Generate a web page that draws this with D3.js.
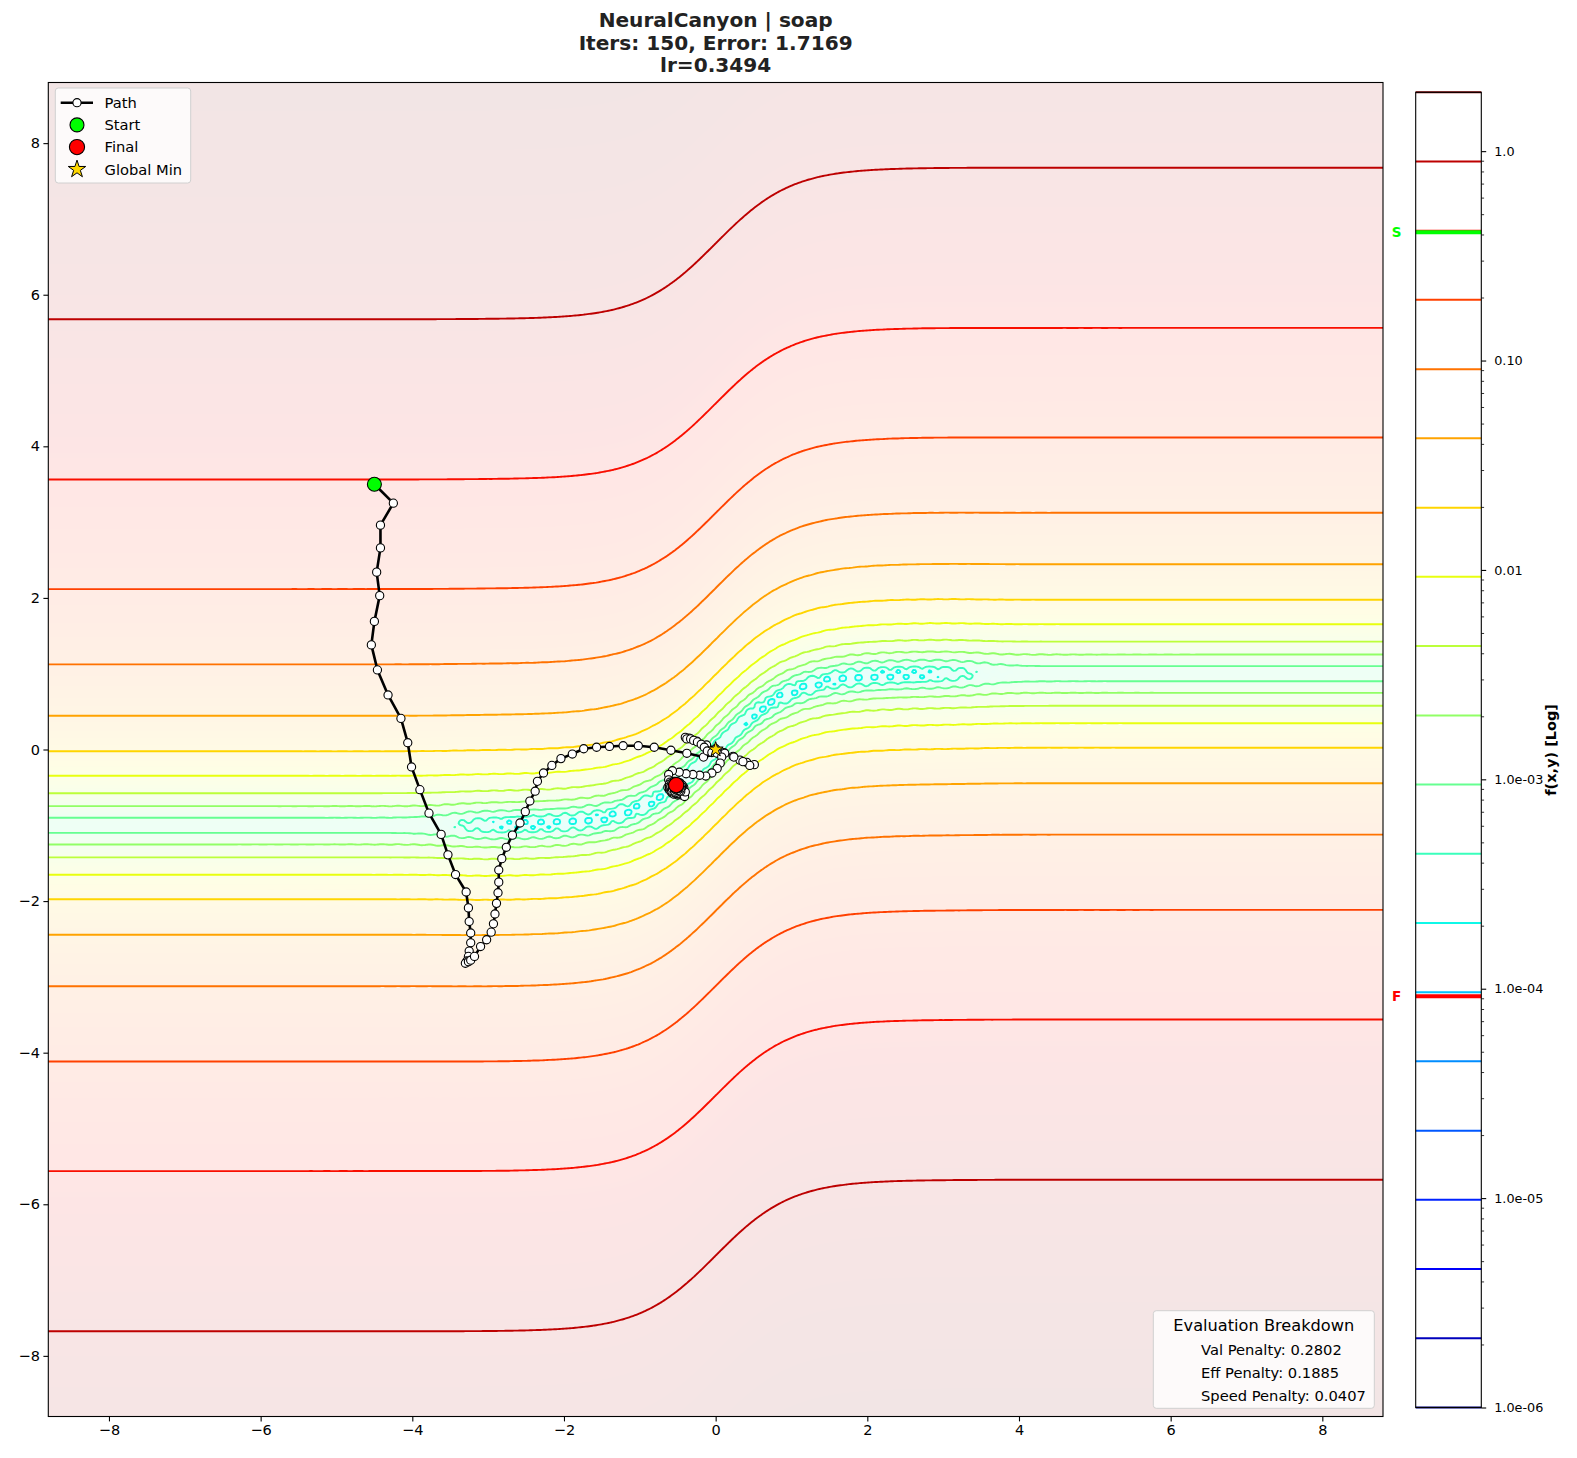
<!DOCTYPE html>
<html>
<head>
<meta charset="utf-8">
<script src="https://cdn.jsdelivr.net/npm/d3@7"></script>
<style>
  body { margin: 0; background: #fff; }
  svg { display: block; }
  text { font-family: "DejaVu Sans", sans-serif; fill: #000; }
</style>
</head>
<body>
<svg id="chart" width="1577" height="1458"></svg>
<script>
// ---- data ----
const titleLines = ["NeuralCanyon | soap", "Iters: 150, Error: 1.7169", "lr=0.3494"];
const axisTicks = [-8, -6, -4, -2, 0, 2, 4, 6, 8];

// contour levels, as drawn on the colour bar (log spaced, 1e-6 .. 1.91)
const levels = [1.0e-6, 2.14e-6, 4.59e-6, 9.81e-6, 2.10e-5, 4.50e-5, 9.63e-5, 2.06e-4, 4.41e-4, 9.45e-4,
                2.02e-3, 4.33e-3, 9.27e-3, 0.0198, 0.0425, 0.0909, 0.195, 0.417, 0.892, 1.91];
const cbTickValues = [1e-6, 1e-5, 1e-4, 1e-3, 0.01, 0.1, 1];
const cbTickLabels = ["1.0e-06", "1.0e-05", "1.0e-04", "1.0e-03", "0.01", "0.10", "1.0"];

// optimiser path
const pathX = [-4.50, -4.25, -4.42, -4.42, -4.47, -4.43, -4.50, -4.54, -4.46, -4.32, -4.15, -4.06, -4.01, -3.90, -3.78, -3.62, -3.53, -3.43, -3.29, -3.26,
               -3.25, -3.23, -3.23, -3.25, -3.26, -3.28, -3.30, -3.26, -3.23, -3.18, -3.10, -3.02, -2.96, -2.93, -2.91, -2.89, -2.87, -2.86, -2.86, -2.82,
               -2.76, -2.68, -2.58, -2.51, -2.45, -2.38, -2.35, -2.27, -2.16, -2.04, -1.89, -1.74, -1.57, -1.40, -1.22, -1.02, -0.81, -0.59, -0.38, -0.16,
               0.11, 0.23, 0.32, 0.41, 0.51, 0.45, 0.36, 0.24, 0.12, 0.00, -0.12, -0.25, -0.35, -0.40, -0.38, -0.33, -0.29, -0.24, -0.19, -0.15,
               -0.11, -0.05, 0.02, 0.08, 0.06, 0.02, -0.05, -0.13, -0.21, -0.30, -0.39, -0.48, -0.57, -0.62, -0.62, -0.60, -0.56, -0.49, -0.45, -0.43,
               -0.46, -0.53, -0.60, -0.63, -0.58, -0.50, -0.44, -0.42, -0.47, -0.55, -0.61, -0.61, -0.55, -0.48, -0.43, -0.44, -0.50, -0.57, -0.61, -0.59,
               -0.53, -0.46, -0.41, -0.40, -0.44, -0.52, -0.58, -0.60, -0.57, -0.51, -0.46, -0.45, -0.49, -0.55, -0.59, -0.58, -0.53, -0.48, -0.46, -0.48,
               -0.53, -0.57, -0.57, -0.54, -0.50, -0.48, -0.50, -0.54, -0.55, -0.53, -0.52];
const pathY = [3.50, 3.25, 2.96, 2.66, 2.34, 2.03, 1.69, 1.38, 1.05, 0.72, 0.41, 0.09, -0.23, -0.53, -0.84, -1.12, -1.39, -1.65, -1.88, -2.09,
               -2.27, -2.42, -2.55, -2.66, -2.73, -2.79, -2.82, -2.80, -2.78, -2.73, -2.60, -2.51, -2.41, -2.30, -2.17, -2.03, -1.89, -1.75, -1.59, -1.44,
               -1.29, -1.13, -0.97, -0.82, -0.68, -0.55, -0.42, -0.31, -0.21, -0.12, -0.06, 0.01, 0.03, 0.04, 0.05, 0.05, 0.03, -0.01, -0.05, -0.10,
               -0.04, -0.09, -0.14, -0.17, -0.20, -0.21, -0.16, -0.10, -0.05, 0.01, 0.06, 0.11, 0.15, 0.16, 0.14, 0.14, 0.12, 0.10, 0.07, 0.03,
               -0.02, -0.04, -0.05, -0.10, -0.18, -0.25, -0.31, -0.35, -0.34, -0.33, -0.32, -0.30, -0.28, -0.33, -0.40, -0.47, -0.52, -0.56, -0.60, -0.53,
               -0.46, -0.42, -0.43, -0.50, -0.57, -0.60, -0.57, -0.50, -0.44, -0.42, -0.46, -0.53, -0.59, -0.59, -0.54, -0.47, -0.43, -0.43, -0.49, -0.55,
               -0.58, -0.58, -0.62, -0.56, -0.49, -0.44, -0.45, -0.51, -0.56, -0.58, -0.55, -0.49, -0.45, -0.45, -0.49, -0.54, -0.57, -0.55, -0.51, -0.47,
               -0.46, -0.48, -0.52, -0.55, -0.54, -0.51, -0.48, -0.48, -0.51, -0.53, -0.49];
const startPoint = [-4.50, 3.50];
const finalPoint = [-0.52, -0.47];
const globalMin = [0, 0];
const startValue = 0.41;     // "S" mark on the colour bar
const finalValue = 9.2e-5;   // "F" mark on the colour bar

const legendLabels = ["Path", "Start", "Final", "Global Min"];
const breakdownTitle = "Evaluation Breakdown";
const breakdownLabels = ["Val Penalty", "Eff Penalty", "Speed Penalty"];
const breakdownValues = ["0.2802", "0.1885", "0.0407"];

// surface the contours are traced from: a tanh canyon whose floor steps up
// past |x| ~ 3.4, with a fine egg-crate ripple on the low middle part of the floor
const canyonSlope = 0.02;
const floorLow = 2.3e-4, floorHigh = 7.45e-4, floorEdge = 3.45, floorSoftness = 0.2;
const rippleAmp = 1.3e-4, rippleFreq = 30, rippleReach = 4.2;
function surface(x, y) {
  const d = y - Math.tanh(x);
  const step = 1 / (1 + Math.exp(-(Math.abs(x) - floorEdge) / floorSoftness));
  const fade = Math.exp(-Math.pow(x / rippleReach, 4));
  return canyonSlope * d * d + floorLow + (floorHigh - floorLow) * step
    + rippleAmp * fade * Math.cos(rippleFreq * x) * Math.cos(rippleFreq * y);
}

// ---- layout ----
const svg = d3.select('#chart');
const plot = { left: 48.3, right: 1383, top: 82.5, bottom: 1416.5 };
const cb = { left: 1415.7, right: 1481.3, top: 92.3, bottom: 1407.5 };

const x = d3.scaleLinear().domain([-8.8, 8.8]).range([plot.left, plot.right]);
const y = d3.scaleLinear().domain([-8.8, 8.8]).range([plot.bottom, plot.top]);
const cbScale = d3.scaleLog().domain([levels[0], levels[levels.length - 1]]).range([cb.bottom, cb.top]);

// matplotlib "jet"
const jetR = d3.scaleLinear().domain([0, 0.35, 0.66, 0.89, 1]).range([0, 0, 1, 1, 0.5]).clamp(true);
const jetG = d3.scaleLinear().domain([0, 0.125, 0.375, 0.64, 0.91, 1]).range([0, 0, 1, 1, 0, 0]).clamp(true);
const jetB = d3.scaleLinear().domain([0, 0.11, 0.34, 0.65, 1]).range([0.5, 1, 1, 0, 0]).clamp(true);
const norm = d3.scaleLog().domain([levels[0], levels[levels.length - 1]]).range([0, 1]).clamp(true);
const jet = t => d3.rgb(jetR(t) * 255, jetG(t) * 255, jetB(t) * 255);
const colorOf = v => jet(norm(Math.max(v, levels[0]))).formatHex();

// ---- faint background image of the surface ----
const W = Math.round(plot.right - plot.left), H = Math.round(plot.bottom - plot.top);
const canvas = document.createElement('canvas');
canvas.width = W; canvas.height = H;
const ctx = canvas.getContext('2d');
const img = ctx.createImageData(W, H);
const lut = d3.range(512).map(i => jet(i / 511));
const xs = d3.range(W).map(i => x.invert(plot.left + (i + 0.5) * (plot.right - plot.left) / W));
const ys = d3.range(H).map(j => y.invert(plot.top + (j + 0.5) * (plot.bottom - plot.top) / H));
for (let j = 0; j < H; j++) {
  for (let i = 0; i < W; i++) {
    const v = surface(xs[i], ys[j]);
    const c = lut[Math.round(norm(Math.max(v, levels[0])) * 511)];
    const k = 4 * (j * W + i);
    img.data[k] = c.r; img.data[k + 1] = c.g; img.data[k + 2] = c.b; img.data[k + 3] = 26;
  }
}
ctx.putImageData(img, 0, 0);

svg.append('defs').append('clipPath').attr('id', 'plotClip')
  .append('rect').attr('x', plot.left).attr('y', plot.top)
  .attr('width', plot.right - plot.left).attr('height', plot.bottom - plot.top);

svg.append('image')
  .attr('x', plot.left).attr('y', plot.top)
  .attr('width', plot.right - plot.left).attr('height', plot.bottom - plot.top)
  .attr('preserveAspectRatio', 'none')
  .attr('href', canvas.toDataURL());

// ---- contour lines (the top level is the data maximum, so it draws nothing) ----
const n = 800, gMin = -9.2, gMax = 9.2, cell = (gMax - gMin) / n;
const grid = new Float64Array(n * n);
for (let j = 0; j < n; j++) {
  const yv = gMax - (j + 0.5) * cell;
  for (let i = 0; i < n; i++) grid[j * n + i] = surface(gMin + (i + 0.5) * cell, yv);
}
const contours = d3.contours().size([n, n]).thresholds(levels.slice(0, -1))(grid);
const proj = d3.geoTransform({
  point(px, py) { this.stream.point(x(gMin + px * cell), y(gMax - py * cell)); }
});
const geo = d3.geoPath(proj);

svg.append('g').attr('clip-path', 'url(#plotClip)')
  .selectAll('path').data(contours).join('path')
  .attr('d', geo)
  .attr('fill', 'none')
  .attr('stroke', d => colorOf(d.value))
  .attr('stroke-width', 1.9)
  .attr('stroke-linejoin', 'round');

// ---- optimiser path ----
const pts = pathX.map((px, i) => [px, pathY[i]]);
const g = svg.append('g').attr('clip-path', 'url(#plotClip)');
g.append('path')
  .attr('d', d3.line().x(d => x(d[0])).y(d => y(d[1]))(pts))
  .attr('fill', 'none').attr('stroke', '#000').attr('stroke-width', 2.6).attr('stroke-linejoin', 'round');
g.selectAll('circle.step').data(pts).join('circle')
  .attr('class', 'step')
  .attr('cx', d => x(d[0])).attr('cy', d => y(d[1])).attr('r', 4.1)
  .attr('fill', '#fff').attr('stroke', '#000').attr('stroke-width', 1.1);

g.append('circle').attr('cx', x(startPoint[0])).attr('cy', y(startPoint[1])).attr('r', 7)
  .attr('fill', '#00ff00').attr('stroke', '#000').attr('stroke-width', 1.1);
g.append('circle').attr('cx', x(finalPoint[0])).attr('cy', y(finalPoint[1])).attr('r', 7.6)
  .attr('fill', '#ff0000').attr('stroke', '#000').attr('stroke-width', 1.1);
const star = d3.symbol().type(d3.symbolStar).size(70);
g.append('path').attr('d', star())
  .attr('transform', `translate(${x(globalMin[0])},${y(globalMin[1])})`)
  .attr('fill', '#ffd700').attr('stroke', '#000').attr('stroke-width', 1);

// ---- axes ----
const fmt = d3.format('d');
svg.append('g').attr('transform', `translate(0,${plot.bottom})`)
  .call(d3.axisBottom(x).tickValues(axisTicks).tickFormat(fmt).tickSize(4.9).tickPadding(3.5))
  .call(a => a.select('.domain').remove())
  .call(a => a.selectAll('text').attr('font-size', 14.5).attr('font-family', 'DejaVu Sans'))
  .call(a => a.selectAll('line').attr('stroke-width', 1.1));
svg.append('g').attr('transform', `translate(${plot.left},0)`)
  .call(d3.axisLeft(y).tickValues(axisTicks).tickFormat(fmt).tickSize(4.9).tickPadding(3.5))
  .call(a => a.select('.domain').remove())
  .call(a => a.selectAll('text').attr('font-size', 14.5).attr('font-family', 'DejaVu Sans'))
  .call(a => a.selectAll('line').attr('stroke-width', 1.1));

svg.append('rect')
  .attr('x', plot.left).attr('y', plot.top)
  .attr('width', plot.right - plot.left).attr('height', plot.bottom - plot.top)
  .attr('fill', 'none').attr('stroke', '#000').attr('stroke-width', 1.1);

// ---- title ----
svg.append('text')
  .attr('x', (plot.left + plot.right) / 2).attr('y', 27)
  .attr('text-anchor', 'middle').attr('font-size', 20.1).attr('font-weight', 'bold')
  .style('fill', '#222')
  .selectAll('tspan').data(titleLines).join('tspan')
  .attr('x', (plot.left + plot.right) / 2).attr('dy', (d, i) => i ? 22.6 : 0)
  .text(d => d);

// ---- legend ----
const lg = svg.append('g');
lg.append('rect').attr('x', 55.3).attr('y', 88).attr('width', 135.4).attr('height', 95).attr('rx', 3)
  .attr('fill', '#fff').attr('fill-opacity', 0.8).attr('stroke', '#d0d0d0').attr('stroke-width', 1);
const rowY = i => 102.7 + i * 22.2;
lg.append('line').attr('x1', 60.7).attr('x2', 93).attr('y1', rowY(0)).attr('y2', rowY(0))
  .attr('stroke', '#000').attr('stroke-width', 2.6);
lg.append('circle').attr('cx', 77).attr('cy', rowY(0)).attr('r', 4.1)
  .attr('fill', '#fff').attr('stroke', '#000').attr('stroke-width', 1.1);
lg.append('circle').attr('cx', 77).attr('cy', rowY(1)).attr('r', 7)
  .attr('fill', '#00ff00').attr('stroke', '#000').attr('stroke-width', 1.1);
lg.append('circle').attr('cx', 77).attr('cy', rowY(2)).attr('r', 7.6)
  .attr('fill', '#ff0000').attr('stroke', '#000').attr('stroke-width', 1.1);
lg.append('path').attr('d', d3.symbol().type(d3.symbolStar).size(95)())
  .attr('transform', `translate(77,${rowY(3)})`)
  .attr('fill', '#ffd700').attr('stroke', '#000').attr('stroke-width', 1);
lg.selectAll('text').data(legendLabels).join('text')
  .attr('x', 104.5).attr('y', (d, i) => rowY(i) + 5.3)
  .attr('font-size', 14.7).text(d => d);

// ---- evaluation breakdown box ----
const eb = svg.append('g');
eb.append('rect').attr('x', 1153.3).attr('y', 1310.7).attr('width', 221).attr('height', 97.6).attr('rx', 3)
  .attr('fill', '#fff').attr('fill-opacity', 0.8).attr('stroke', '#d0d0d0').attr('stroke-width', 1);
eb.append('text').attr('x', 1263.8).attr('y', 1330.5).attr('text-anchor', 'middle')
  .attr('font-size', 16.2).text(breakdownTitle);
eb.selectAll('text.row').data(breakdownLabels).join('text')
  .attr('class', 'row')
  .attr('x', 1201).attr('y', (d, i) => 1354.5 + i * 23.3)
  .attr('font-size', 14.7)
  .text((d, i) => `${d}: ${breakdownValues[i]}`);

// ---- colour bar ----
const cbg = svg.append('g');
cbg.append('rect').attr('x', cb.left).attr('y', cb.top).attr('width', cb.right - cb.left).attr('height', cb.bottom - cb.top)
  .attr('fill', '#fff');
cbg.selectAll('line.level').data(levels).join('line')
  .attr('class', 'level')
  .attr('x1', cb.left).attr('x2', cb.right)
  .attr('y1', d => cbScale(d)).attr('y2', d => cbScale(d))
  .attr('stroke', d => colorOf(d)).attr('stroke-width', 2);
cbg.append('line').attr('x1', cb.left).attr('x2', cb.right)
  .attr('y1', cbScale(startValue)).attr('y2', cbScale(startValue))
  .attr('stroke', '#00ff00').attr('stroke-width', 4);
cbg.append('line').attr('x1', cb.left).attr('x2', cb.right)
  .attr('y1', cbScale(finalValue)).attr('y2', cbScale(finalValue))
  .attr('stroke', '#ff0000').attr('stroke-width', 4);
cbg.append('text').attr('x', 1396.5).attr('y', cbScale(startValue) + 4.8).attr('text-anchor', 'middle')
  .attr('font-size', 13.5).attr('font-weight', 'bold').style('fill', '#00ff00').text('S');
cbg.append('text').attr('x', 1396.5).attr('y', cbScale(finalValue) + 4.8).attr('text-anchor', 'middle')
  .attr('font-size', 13.5).attr('font-weight', 'bold').style('fill', '#ff0000').text('F');
cbg.append('rect').attr('x', cb.left).attr('y', cb.top).attr('width', cb.right - cb.left).attr('height', cb.bottom - cb.top)
  .attr('fill', 'none').attr('stroke', '#000').attr('stroke-width', 1.1);

const minorTicks = cbScale.ticks().filter(v => !cbTickValues.some(t => Math.abs(t - v) / t < 1e-6));
cbg.append('g').attr('transform', `translate(${cb.right},0)`)
  .call(d3.axisRight(cbScale).tickValues(minorTicks).tickFormat('').tickSize(2.8))
  .call(a => a.select('.domain').remove())
  .call(a => a.selectAll('line').attr('stroke-width', 0.8));
cbg.append('g').attr('transform', `translate(${cb.right},0)`)
  .call(d3.axisRight(cbScale).tickValues(cbTickValues).tickFormat((d, i) => cbTickLabels[i]).tickSize(4.9).tickPadding(8))
  .call(a => a.select('.domain').remove())
  .call(a => a.selectAll('text').attr('font-size', 12.8).attr('font-family', 'DejaVu Sans'))
  .call(a => a.selectAll('line').attr('stroke-width', 1.1));

svg.append('text')
  .attr('transform', `translate(1556,${(cb.top + cb.bottom) / 2}) rotate(-90)`)
  .attr('text-anchor', 'middle').attr('font-size', 14.5).attr('font-weight', 'bold')
  .text('f(x,y) [Log]');
</script>
</body>
</html>
